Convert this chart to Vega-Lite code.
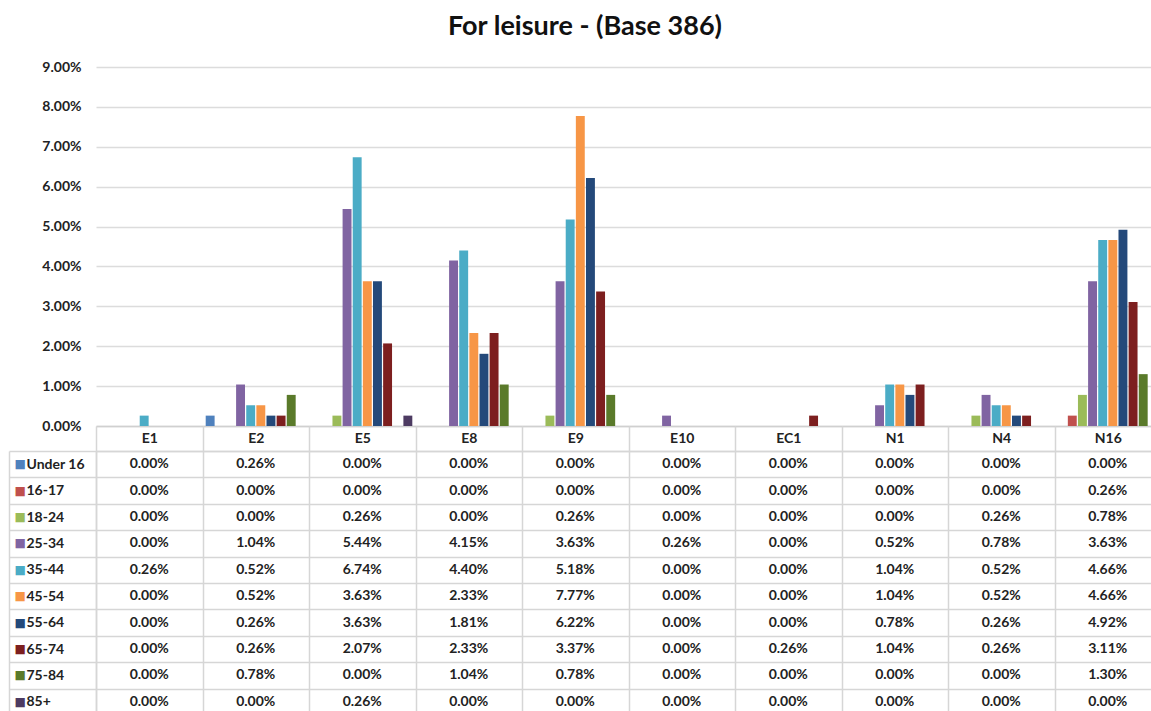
{
  "$schema": "https://vega.github.io/schema/vega-lite/v6.json",
  "padding": {"left": 8, "top": 13, "right": 0, "bottom": 0},
  "background": "white",
  "title": {"text": "For leisure - (Base 386)", "fontSize": 27, "font": "Lato", "fontWeight": "bold", "color": "#111", "anchor": "middle", "offset": 19},
  "config": {"font": "Lato", "view": {"stroke": null}},
  "spacing": 25,
  "bounds": "flush",
  "data": {"values": [
    {"c":"E1","s":"Under 16","v":0},{"c":"E2","s":"Under 16","v":0.0026},{"c":"E5","s":"Under 16","v":0},{"c":"E8","s":"Under 16","v":0},{"c":"E9","s":"Under 16","v":0},{"c":"E10","s":"Under 16","v":0},{"c":"EC1","s":"Under 16","v":0},{"c":"N1","s":"Under 16","v":0},{"c":"N4","s":"Under 16","v":0},{"c":"N16","s":"Under 16","v":0},
    {"c":"E1","s":"16-17","v":0},{"c":"E2","s":"16-17","v":0},{"c":"E5","s":"16-17","v":0},{"c":"E8","s":"16-17","v":0},{"c":"E9","s":"16-17","v":0},{"c":"E10","s":"16-17","v":0},{"c":"EC1","s":"16-17","v":0},{"c":"N1","s":"16-17","v":0},{"c":"N4","s":"16-17","v":0},{"c":"N16","s":"16-17","v":0.0026},
    {"c":"E1","s":"18-24","v":0},{"c":"E2","s":"18-24","v":0},{"c":"E5","s":"18-24","v":0.0026},{"c":"E8","s":"18-24","v":0},{"c":"E9","s":"18-24","v":0.0026},{"c":"E10","s":"18-24","v":0},{"c":"EC1","s":"18-24","v":0},{"c":"N1","s":"18-24","v":0},{"c":"N4","s":"18-24","v":0.0026},{"c":"N16","s":"18-24","v":0.0078},
    {"c":"E1","s":"25-34","v":0},{"c":"E2","s":"25-34","v":0.0104},{"c":"E5","s":"25-34","v":0.0544},{"c":"E8","s":"25-34","v":0.0415},{"c":"E9","s":"25-34","v":0.0363},{"c":"E10","s":"25-34","v":0.0026},{"c":"EC1","s":"25-34","v":0},{"c":"N1","s":"25-34","v":0.0052},{"c":"N4","s":"25-34","v":0.0078},{"c":"N16","s":"25-34","v":0.0363},
    {"c":"E1","s":"35-44","v":0.0026},{"c":"E2","s":"35-44","v":0.0052},{"c":"E5","s":"35-44","v":0.0674},{"c":"E8","s":"35-44","v":0.044},{"c":"E9","s":"35-44","v":0.0518},{"c":"E10","s":"35-44","v":0},{"c":"EC1","s":"35-44","v":0},{"c":"N1","s":"35-44","v":0.0104},{"c":"N4","s":"35-44","v":0.0052},{"c":"N16","s":"35-44","v":0.0466},
    {"c":"E1","s":"45-54","v":0},{"c":"E2","s":"45-54","v":0.0052},{"c":"E5","s":"45-54","v":0.0363},{"c":"E8","s":"45-54","v":0.0233},{"c":"E9","s":"45-54","v":0.0777},{"c":"E10","s":"45-54","v":0},{"c":"EC1","s":"45-54","v":0},{"c":"N1","s":"45-54","v":0.0104},{"c":"N4","s":"45-54","v":0.0052},{"c":"N16","s":"45-54","v":0.0466},
    {"c":"E1","s":"55-64","v":0},{"c":"E2","s":"55-64","v":0.0026},{"c":"E5","s":"55-64","v":0.0363},{"c":"E8","s":"55-64","v":0.0181},{"c":"E9","s":"55-64","v":0.0622},{"c":"E10","s":"55-64","v":0},{"c":"EC1","s":"55-64","v":0},{"c":"N1","s":"55-64","v":0.0078},{"c":"N4","s":"55-64","v":0.0026},{"c":"N16","s":"55-64","v":0.0492},
    {"c":"E1","s":"65-74","v":0},{"c":"E2","s":"65-74","v":0.0026},{"c":"E5","s":"65-74","v":0.0207},{"c":"E8","s":"65-74","v":0.0233},{"c":"E9","s":"65-74","v":0.0337},{"c":"E10","s":"65-74","v":0},{"c":"EC1","s":"65-74","v":0.0026},{"c":"N1","s":"65-74","v":0.0104},{"c":"N4","s":"65-74","v":0.0026},{"c":"N16","s":"65-74","v":0.0311},
    {"c":"E1","s":"75-84","v":0},{"c":"E2","s":"75-84","v":0.0078},{"c":"E5","s":"75-84","v":0},{"c":"E8","s":"75-84","v":0.0104},{"c":"E9","s":"75-84","v":0.0078},{"c":"E10","s":"75-84","v":0},{"c":"EC1","s":"75-84","v":0},{"c":"N1","s":"75-84","v":0},{"c":"N4","s":"75-84","v":0},{"c":"N16","s":"75-84","v":0.013},
    {"c":"E1","s":"85+","v":0},{"c":"E2","s":"85+","v":0},{"c":"E5","s":"85+","v":0.0026},{"c":"E8","s":"85+","v":0},{"c":"E9","s":"85+","v":0},{"c":"E10","s":"85+","v":0},{"c":"EC1","s":"85+","v":0},{"c":"N1","s":"85+","v":0},{"c":"N4","s":"85+","v":0},{"c":"N16","s":"85+","v":0}
  ]},
  "vconcat": [
    {
      "width": 1065,
      "height": 359,
      "mark": {"type": "bar"},
      "encoding": {
        "x": {"field": "c", "type": "nominal", "sort": ["E1","E2","E5","E8","E9","E10","EC1","N1","N4","N16"],
              "scale": {"paddingInner": 0.06, "paddingOuter": 0.03},
              "axis": {"labels": false, "ticks": false, "title": null, "domainColor": "#d0d0d0", "domainWidth": 1.5}},
        "xOffset": {"field": "s", "type": "nominal", "sort": ["Under 16","16-17","18-24","25-34","35-44","45-54","55-64","65-74","75-84","85+"],
              "scale": {"paddingInner": 0.12}},
        "y": {"field": "v", "type": "quantitative", "scale": {"domain": [0, 0.09], "nice": false},
              "axis": {"format": ".2%", "values": [0,0.01,0.02,0.03,0.04,0.05,0.06,0.07,0.08,0.09], "title": null, "domain": false, "ticks": false,
                       "labelPadding": 15, "labelFontSize": 14, "labelFontWeight": "bold", "labelColor": "#222", "gridColor": "#dcdcdc", "gridWidth": 1.5, "labelOverlap": false}},
        "color": {"field": "s", "type": "nominal", "sort": ["Under 16","16-17","18-24","25-34","35-44","45-54","55-64","65-74","75-84","85+"],
              "scale": {"domain": ["Under 16","16-17","18-24","25-34","35-44","45-54","55-64","65-74","75-84","85+"],
                        "range": ["#4F81BD","#C0504D","#9BBB59","#8064A2","#4BACC6","#F79646","#24497A","#7D1F1F","#5A7A2A","#4D3B62"]},
              "legend": null}
      }
    },
    {
      "width": 1065,
      "height": 264,
      "resolve": {"axis": {"y": "independent"}},
      "layer": [
        {
          "mark": {"type": "text", "fontSize": 14, "fontWeight": "bold", "color": "#222"},
          "encoding": {
            "x": {"field": "c", "type": "nominal", "sort": ["E1","E2","E5","E8","E9","E10","EC1","N1","N4","N16"],
                  "scale": {"paddingInner": 0, "paddingOuter": 0},
                  "axis": {"orient": "top", "title": null, "tickBand": "extent", "tickSize": 25, "tickColor": "#d6d6d6", "tickWidth": 1.5,
                           "labelPadding": -12.5, "labelBaseline": "middle", "labelAngle": 0, "labelFontSize": 14, "labelFontWeight": "bold", "labelColor": "#222",
                           "domainColor": "#d6d6d6", "domainWidth": 1.5, "grid": true, "gridColor": "#d6d6d6", "gridWidth": 1.5, "labelOverlap": false}},
            "y": {"field": "s", "type": "nominal", "sort": ["Under 16","16-17","18-24","25-34","35-44","45-54","55-64","65-74","75-84","85+"],
                  "scale": {"paddingInner": 0, "paddingOuter": 0},
                  "axis": {"orient": "left", "title": null, "tickBand": "extent", "tickSize": 87, "tickColor": "#d6d6d6", "tickWidth": 1.5,
                           "labelAlign": "left", "labelPadding": -17, "labelFontSize": 14, "labelFontWeight": "bold", "labelColor": "#222",
                           "domainColor": "#d6d6d6", "domainWidth": 1.5, "grid": true, "gridColor": "#d6d6d6", "gridWidth": 1.5, "labelOverlap": false}},
            "text": {"field": "v", "type": "quantitative", "format": ".2%"}
          }
        },
        {
          "mark": {"type": "text", "text": ""},
          "encoding": {
            "y": {"field": "s", "type": "nominal", "sort": ["Under 16","16-17","18-24","25-34","35-44","45-54","55-64","65-74","75-84","85+"],
                  "axis": {"orient": "left", "offset": 87, "title": null, "ticks": false, "tickSize": 0, "grid": false,
                           "labelExpr": "'■'", "labelAlign": "left", "labelPadding": -5, "labelFontSize": 12, "labelFont": "DejaVu Sans",
                           "domainColor": "#d6d6d6", "domainWidth": 1.5, "labelOverlap": false,
                           "labelColor": {"condition": [
                             {"test": "datum.value==='Under 16'", "value": "#4F81BD"},
                             {"test": "datum.value==='16-17'", "value": "#C0504D"},
                             {"test": "datum.value==='18-24'", "value": "#9BBB59"},
                             {"test": "datum.value==='25-34'", "value": "#8064A2"},
                             {"test": "datum.value==='35-44'", "value": "#4BACC6"},
                             {"test": "datum.value==='45-54'", "value": "#F79646"},
                             {"test": "datum.value==='55-64'", "value": "#24497A"},
                             {"test": "datum.value==='65-74'", "value": "#7D1F1F"},
                             {"test": "datum.value==='75-84'", "value": "#5A7A2A"}
                           ], "value": "#4D3B62"}}}
          }
        }
      ]
    }
  ]
}
